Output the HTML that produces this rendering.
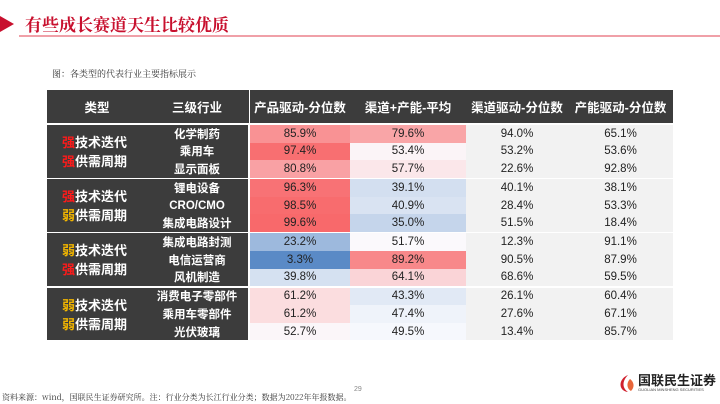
<!DOCTYPE html>
<html><head><meta charset="utf-8"><style>
body{margin:0;width:720px;height:404px;background:#fff;position:relative;overflow:hidden;font-family:"Liberation Sans","Noto Sans CJK SC",sans-serif}
.a{position:absolute}
.c{position:absolute;display:flex;align-items:center;justify-content:center;font-size:11.5px;color:#222;white-space:nowrap}
.h{color:#fff;font-weight:bold;font-size:12.5px}
</style></head><body>
<div class="a" style="left:0;top:16px;width:0;height:0;border-top:8px solid transparent;border-bottom:8px solid transparent;border-left:14px solid #c8102e"></div>
<div class="a" style="left:25px;top:11px;font-family:'Noto Serif CJK SC',serif;font-size:17px;color:#c8102e;font-weight:bold">有些成长赛道天生比较优质</div>
<div class="a" style="left:19px;top:35px;width:701px;height:2px;background:#f0a0a8"></div>
<div class="a" style="left:52px;top:67px;font-family:'Noto Serif CJK SC',serif;font-size:9px;color:#333">图：各类型的代表行业主要指标展示</div>
<div id="tbl"></div>
<div class="a" style="left:354px;top:386px;font-size:7px;color:#888">29</div>
<div class="a" style="left:2px;top:392px;font-family:'Noto Serif CJK SC',serif;font-size:8px;color:#333">资料来源：wind，国联民生证券研究所。注：行业分类为长江行业分类；数据为2022年年报数据。</div>
<div class="a" style="left:616px;top:373px;display:flex;align-items:center">
<svg width="20" height="20"><path d="M12 2 C2 6 2 18 12 19 C6 15 6 8 12 2Z" fill="#d0202e"/><path d="M14 6 C10 10 11 16 15 18 C19 14 18 9 14 6Z" fill="#e8663a"/></svg>
<div style="margin-left:2px"><div style="font-size:13px;font-weight:bold;color:#222;line-height:13px">国联民生证券</div><div style="font-size:4px;color:#444">GUOLIAN MINSHENG SECURITIES</div></div></div>
<script>
const industries=["化学制药","乘用车","显示面板","锂电设备","CRO/CMO","集成电路设计","集成电路封测","电信运营商","风机制造","消费电子零部件","乘用车零部件","光伏玻璃"];
const productDrive=[85.9,97.4,80.8,96.3,98.5,99.6,23.2,3.3,39.8,61.2,61.2,52.7];
const channelCapAvg=[79.6,53.4,57.7,39.1,40.9,35.0,51.7,89.2,64.1,43.3,47.4,49.5];
const channelDrive=[94.0,53.2,22.6,40.1,28.4,51.5,12.3,90.5,68.6,26.1,27.6,13.4];
const capacityDrive=[65.1,53.6,92.8,38.1,53.3,18.4,91.1,87.9,59.5,60.4,67.1,85.7];
const typeTech=["强","强","弱","弱"];
const typeCycle=["强","弱","强","弱"];
const headers=["类型","三级行业","产品驱动-分位数","渠道+产能-平均","渠道驱动-分位数","产能驱动-分位数"];
const T=document.getElementById('tbl');
function mk(cls,l,t,w,h,bg,txt){const d=document.createElement('div');d.className=cls;d.style.left=l+'px';d.style.top=t+'px';d.style.width=w+'px';d.style.height=h+'px';if(bg)d.style.background=bg;if(txt!==undefined)d.innerHTML=txt;T.appendChild(d);return d;}
const X=[47,249,350,466,568,673];
function col(v){const lo=3.3,hi=99.6,mid=51;let r,g,b;
 if(v>=mid){const f=(v-mid)/(hi-mid);r=252+(248-252)*f;g=252+(105-252)*f;b=255+(107-255)*f;}
 else{const f=(mid-v)/(mid-lo);r=252+(90-252)*f;g=252+(138-252)*f;b=255+(198-255)*f;}
 return `rgb(${r|0},${g|0},${b|0})`;}
// header
let hd=mk('c h',X[0],90,X[1]-X[0],33,'#3c3c3c','');


let h1=mk('c h',X[0],90,100,33,null,headers[0]);


let h2=mk('c h',X[0]+100,90,100,33,null,headers[1]);


for(let k=0;k<4;k++){const e=mk('c h',X[k+1]+(k==0?1:0),90,X[k+2]-X[k+1]-(k==0?1:0),33,'#3c3c3c',headers[k+2]);
 
 }
const cols=[productDrive,channelCapAvg,channelDrive,capacityDrive];
const gh=54.2,rh=17.6;
for(let g=0;g<4;g++){
 const gt=125+g*gh, hh=gh-1.5;
 const left=mk('a',X[0],gt,X[1]-X[0]-1,hh,'#3c3c3c');
 
 
 const c1=typeTech[g]=='强'?'#ff1a1a':'#f0b400', c2=typeCycle[g]=='强'?'#ff1a1a':'#f0b400';
 const lab=mk('a',X[0]+15,gt+8,100,40,null,`<div style="font-size:13px;font-weight:bold;color:#fff;line-height:19px"><span style="color:${c1}">${typeTech[g]}</span>技术迭代<br><span style="color:${c2}">${typeCycle[g]}</span>供需周期</div>`);
 
 
 for(let r=0;r<3;r++){const i=g*3+r,t=gt+r*rh;
  const ind=mk('c',X[0]+100,t,100,rh,null,industries[i]);ind.style.color='#fff';ind.style.fontWeight='bold';ind.style.fontSize='11.5px';
  
  
  for(let k=0;k<4;k++){const v=cols[k][i];const bg=k<2?col(v):'#f2f2f2';
   const e=mk('c',X[k+1]+(k==0?1:0),t,X[k+2]-X[k+1]-(k==0?1:0),rh,bg,v.toFixed(1)+'%');
   
   }
 }
 if(g<3){const s=mk('a',X[1],gt+hh,X[5]-X[1],1.5,'#fff');
  
  }
}
</script>
</body></html>
